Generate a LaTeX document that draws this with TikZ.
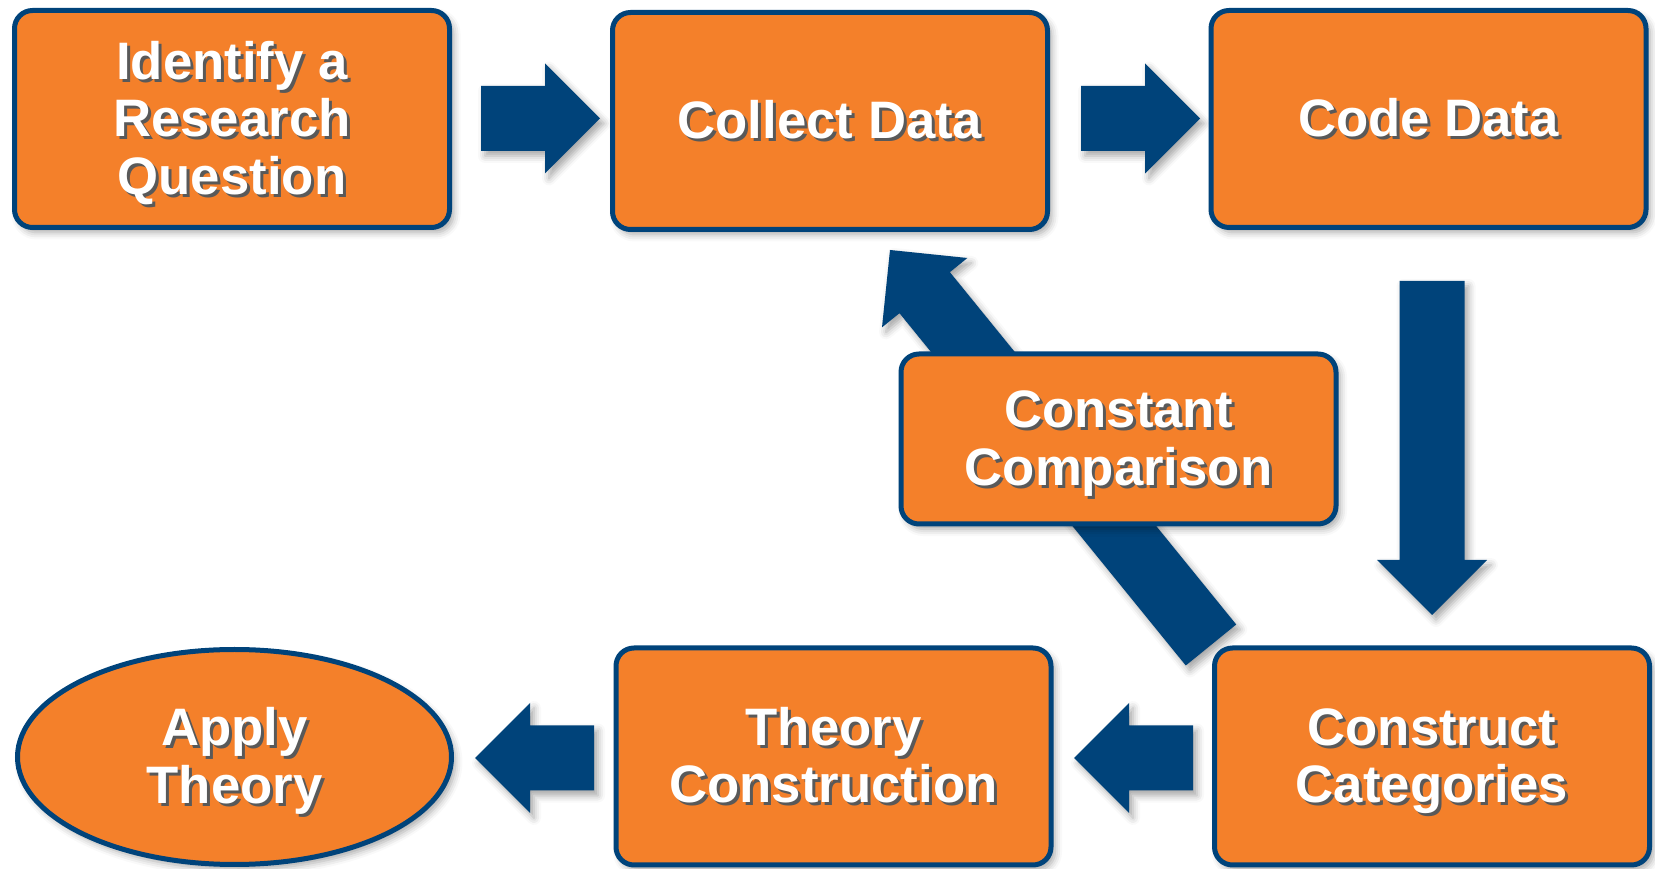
\documentclass[tikz,border=0pt]{standalone}
\usepackage{fontspec}
\setmainfont{Liberation Sans}
\usetikzlibrary{calc,shapes.geometric,shadows.blur}
\definecolor{boxorange}{HTML}{F4802A}
\definecolor{navy}{HTML}{00437A}
\pgfdeclarelayer{bg}
\pgfsetlayers{bg,main}
\newcommand{\sh}[1]{\rlap{\kern0.3mm\raisebox{-0.3mm}{\textcolor{black!65}{#1}}}#1}
\newcommand{\topstrut}{\rule{0pt}{4.9mm}}
\newcommand{\blockarrow}[2]{%
  \coordinate (#1hb) at ($(#2)!5.5mm!(#1)$);
  \fill[bigarrow] ($(#1)!3.25mm!90:(#2)$) -- ($(#1hb)!3.25mm!-90:(#1)$) -- ($(#1hb)!5.5mm!-90:(#1)$) -- (#2) -- ($(#1hb)!5.5mm!90:(#1)$) -- ($(#1hb)!3.25mm!90:(#1)$) -- ($(#1)!3.25mm!-90:(#2)$) -- cycle;}
\tikzset{
  softshadow/.style={blur shadow={shadow xshift=0.4mm, shadow yshift=-0.5mm, shadow opacity=35, shadow blur radius=0.7mm}},
  stepbox/.style={draw=navy, line width=0.5mm, fill=boxorange, rounded corners=1.8mm,
    minimum width=43.5mm, minimum height=21.7mm, text=white, align=center, inner sep=0pt,
    font=\fontsize{15pt}{16.3pt}\selectfont\bfseries, softshadow},
  bigarrow/.style={fill=navy, softshadow}
}
\begin{document}
\begin{tikzpicture}[x=0.1mm, y=-0.1mm]
\useasboundingbox (0,0) rectangle (1655,869);
% nodes
\node[stepbox] (idq) at (232,119) {\topstrut\sh{Identify a}\\\sh{Research}\\\sh{Question}};
\node[stepbox] (collect) at (830,121) {\sh{Collect Data}};
\node[stepbox] (code) at (1428.5,119) {\sh{Code Data}};
\node[stepbox, minimum height=17.0mm] (constant) at (1118.5,439) {\topstrut\sh{Constant}\\\sh{Comparison}};
\node[stepbox] (construct) at (1432,756.5) {\topstrut\sh{Construct}\\\sh{Categories}};
\node[stepbox] (theory) at (833.5,756.5) {\sh{Theory}\\\sh{Construction}};
\node[stepbox, ellipse, sharp corners, minimum width=43.4mm, minimum height=21.5mm] (apply) at (234.5,757) {\topstrut\sh{Apply}\\\sh{Theory}};
% arrow end points
\coordinate (a1s) at (481,118.5);   \coordinate (a1e) at (600,118.5);
\coordinate (a2s) at (1081,118.5);  \coordinate (a2e) at (1200,118.5);
\coordinate (a3s) at (1432,281);    \coordinate (a3e) at (1432,615);
\coordinate (a4s) at (1193,758);    \coordinate (a4e) at (1074,758);
\coordinate (a5s) at (594,758);     \coordinate (a5e) at (475,758);
\coordinate (a6s) at (1211,645);    \coordinate (a6e) at (890,250);
\begin{pgfonlayer}{bg}
\blockarrow{a1s}{a1e}
\blockarrow{a2s}{a2e}
\blockarrow{a3s}{a3e}
\blockarrow{a4s}{a4e}
\blockarrow{a5s}{a5e}
\blockarrow{a6s}{a6e}
\end{pgfonlayer}
\end{tikzpicture}
\end{document}
